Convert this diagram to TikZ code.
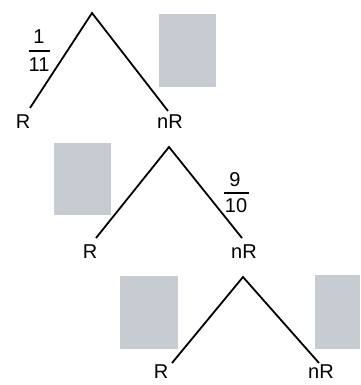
\documentclass[tikz,border=0pt]{standalone}
\usepackage{fontspec}
\setmainfont{Liberation Sans}
\definecolor{boxgray}{RGB}{199,204,211}
\tikzset{
  lbl/.style={inner sep=0pt, font=\fontsize{20}{22}\selectfont},
  branch/.style={line width=1.8pt, black},
  graybox/.style={fill=boxgray, draw=none},
  fracbar/.style={line width=1.3pt, black}
}
\begin{document}
\begin{tikzpicture}[x=1pt,y=-1pt]
\useasboundingbox (0,0) rectangle (360,385);
% gray boxes
\fill[graybox] (159,14) rectangle (216,87);
\fill[graybox] (54,143) rectangle (111,215);
\fill[graybox] (120,276) rectangle (178,349);
\fill[graybox] (315,275) rectangle (360,349);
% tree 1
\coordinate (a1) at (92,13);
\coordinate (l1) at (30,108);
\coordinate (r1) at (168,111);
\node[lbl] (R1) at (23,122) {R};
\node[lbl] (nR1) at (170,122) {nR};
\draw[branch] (l1) -- (a1) -- (r1);
\node[lbl] (f1n) at (39,37) {1};
\node[lbl] (f1d) at (39,65) {11};
\draw[fracbar] (29,51) -- (50,51);
% tree 2
\coordinate (a2) at (169,147);
\coordinate (l2) at (96,238);
\coordinate (r2) at (242,238);
\node[lbl] (R2) at (90,251.5) {R};
\node[lbl] (nR2) at (244,251.5) {nR};
\draw[branch] (l2) -- (a2) -- (r2);
\node[lbl] (f2n) at (235,180) {9};
\node[lbl] (f2d) at (236,206) {10};
\draw[fracbar] (224,193) -- (249,193);
% tree 3
\coordinate (a3) at (243,277);
\coordinate (l3) at (172,363);
\coordinate (r3) at (319,363);
\node[lbl] (R3) at (161,372) {R};
\node[lbl] (nR3) at (321,372) {nR};
\draw[branch] (l3) -- (a3) -- (r3);
\end{tikzpicture}
\end{document}
